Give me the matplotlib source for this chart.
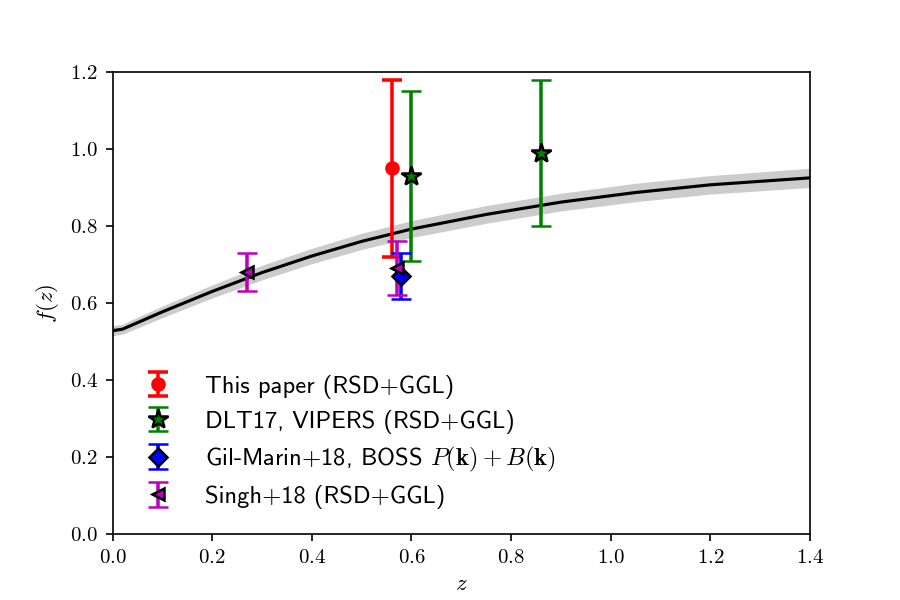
import numpy as np
import matplotlib
matplotlib.use("Agg")
import matplotlib.pyplot as plt

plt.rcParams['mathtext.fontset'] = 'cm'
plt.rcParams['font.family'] = 'cmr10'
plt.rcParams['axes.formatter.use_mathtext'] = True

# theory curve
z_th = [0.0, 0.02, 0.1, 0.2, 0.3, 0.4, 0.5, 0.6, 0.75, 0.9, 1.05, 1.2, 1.4]
f_th = [0.528, 0.532, 0.577, 0.630, 0.679, 0.722, 0.760, 0.792, 0.830, 0.862, 0.887, 0.907, 0.925]
f_lo = [0.515, 0.519, 0.562, 0.613, 0.660, 0.702, 0.739, 0.770, 0.807, 0.839, 0.863, 0.883, 0.900]
f_hi = [0.541, 0.545, 0.592, 0.647, 0.698, 0.742, 0.781, 0.814, 0.853, 0.885, 0.911, 0.931, 0.950]

# data points
this_z = [0.56]; this_f = [0.95]; this_e = [0.23]
dlt_z = [0.60, 0.86]; dlt_f = [0.93, 0.99]; dlt_e = [0.22, 0.19]
gm_z = [0.58]; gm_f = [0.67]; gm_e = [0.06]
singh_z = [0.27, 0.571]; singh_f = [0.68, 0.69]; singh_e = [0.05, 0.07]

labels = ['This paper (RSD+GGL)', 'DLT17, VIPERS (RSD+GGL)',
          r'Gil-Marin+18, BOSS $P(\mathbf{k})+B(\mathbf{k})$', 'Singh+18 (RSD+GGL)']

fig, ax = plt.subplots(figsize=(6, 4), dpi=150)

ax.fill_between(z_th, f_lo, f_hi, color='0.8', lw=0, zorder=1)
ax.plot(z_th, f_th, color='k', lw=1.5, zorder=2)

kw = dict(ls='none', elinewidth=1.7, capsize=5, capthick=1.7, zorder=3)
ax.errorbar(this_z, this_f, yerr=this_e, fmt='o', color='r', ms=6, label=labels[0], **kw)
ax.errorbar(dlt_z, dlt_f, yerr=dlt_e, fmt='*', color='g', mec='k', mew=1.2, ms=10, label=labels[1], **kw)
ax.errorbar(gm_z, gm_f, yerr=gm_e, fmt='D', color='b', mec='k', mew=1.2, ms=6, label=labels[2], **kw)
ax.errorbar(singh_z, singh_f, yerr=singh_e, fmt='<', color='m', mec='k', mew=1.2, ms=5.5, label=labels[3], **kw)

ax.set_xlim(0, 1.4)
ax.set_ylim(0, 1.2)
ax.set_xlabel(r'$z$', fontsize=11)
ax.set_ylabel(r'$f(z)$', fontsize=11)

leg = ax.legend(loc='lower left', bbox_to_anchor=(0, 0.009), frameon=False,
                prop={'family': 'cmss10', 'size': 11.8},
                borderaxespad=0.45, handletextpad=0.9, labelspacing=0.45)

fig.savefig('out.png', dpi=150)
